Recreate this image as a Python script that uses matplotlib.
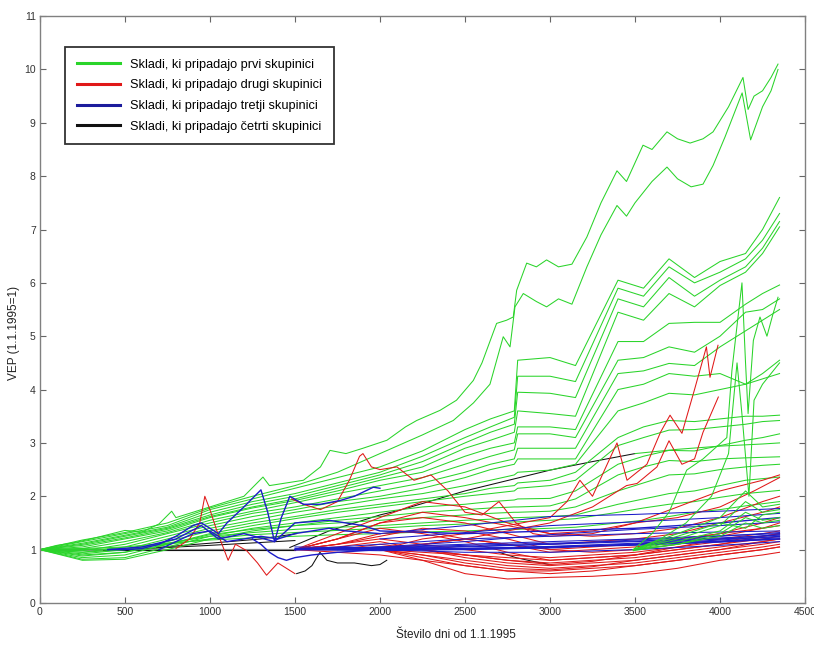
import numpy as np
import matplotlib
matplotlib.use("Agg")
import matplotlib.pyplot as plt

plt.rcParams['font.family'] = ['Liberation Sans', 'DejaVu Sans']

nan = np.nan

# ---------------- group 1 (green) ----------------
# two leading funds, read densely
g01_days = [0, 100, 200, 300, 400, 500, 600, 700, 775, 800, 900, 1000, 1100, 1200, 1312, 1350,
            1450, 1550, 1650, 1706, 1800, 1900, 2041, 2150, 2216, 2353, 2450, 2549, 2600, 2686,
            2745, 2784, 2804, 2863, 2920, 2980, 3050, 3129, 3217, 3300, 3394, 3450, 3547, 3600,
            3688, 3750, 3824, 3900, 3959, 4050, 4135, 4165, 4200, 4250, 4300, 4341]
g01_vals = [1.0, 1.08, 1.13, 1.2, 1.28, 1.36, 1.33, 1.48, 1.72, 1.6, 1.7, 1.8, 1.9, 2.0, 2.36, 2.2,
            2.25, 2.3, 2.55, 2.86, 2.8, 2.9, 3.05, 3.3, 3.42, 3.61, 3.8, 4.17, 4.5, 5.24,
            5.3, 5.36, 5.86, 6.37, 6.3, 6.43, 6.3, 6.35, 6.86, 7.5, 8.1, 7.9, 8.58, 8.5,
            8.83, 8.7, 8.62, 8.7, 8.83, 9.3, 9.85, 9.25, 9.5, 9.6, 9.85, 10.1]
g02_days = [0, 250, 500, 750, 1000, 1250, 1500, 1750, 2000, 2250, 2431, 2550, 2647, 2725, 2765,
            2794, 2843, 2920, 2980, 3050, 3129, 3217, 3300, 3394, 3450, 3500, 3600, 3688, 3750,
            3830, 3900, 3959, 4030, 4130, 4180, 4250, 4300, 4341]
g02_vals = [1.0, 1.18, 1.32, 1.5, 1.78, 2.0, 2.2, 2.45, 2.8, 3.15, 3.42, 3.75, 4.1, 4.99, 4.8,
            5.55, 5.8, 5.65, 5.55, 5.7, 5.6, 6.3, 6.9, 7.45, 7.25, 7.5, 7.9, 8.17, 7.95,
            7.8, 7.85, 8.2, 8.74, 9.56, 8.68, 9.3, 9.6, 10.0]

# remaining first-group funds on a common day grid
g_days = [0, 250, 500, 750, 1000, 1250, 1500, 1750, 2000, 2250, 2500, 2650,
          2790, 2810, 3000, 3150, 3400, 3550, 3700, 3850, 4000, 4150, 4250, 4350]
g03 = [1.0, 1.15, 1.3, 1.45, 1.75, 1.95, 2.15, 2.35, 2.55, 2.85, 3.25, 3.45, 3.6, 4.55, 4.6, 4.45, 6.05, 5.9, 6.45, 6.1, 6.4, 6.55, 7.0, 7.6]
g04 = [1.0, 1.12, 1.27, 1.42, 1.7, 1.9, 2.05, 2.25, 2.45, 2.75, 3.1, 3.3, 3.48, 4.25, 4.25, 4.15, 5.9, 5.75, 6.3, 6.0, 6.2, 6.45, 6.8, 7.3]
g05 = [1.0, 1.1, 1.25, 1.4, 1.65, 1.85, 2.0, 2.2, 2.4, 2.65, 3.0, 3.2, 3.35, 3.95, 3.93, 3.85, 5.7, 5.55, 6.1, 5.75, 6.05, 6.3, 6.65, 7.15]
g06 = [1.0, 1.08, 1.22, 1.38, 1.62, 1.8, 1.95, 2.15, 2.35, 2.55, 2.9, 3.05, 3.2, 3.6, 3.55, 3.5, 5.45, 5.3, 5.8, 5.55, 5.95, 6.2, 6.55, 7.05]
g07 = [1.0, 1.05, 1.2, 1.35, 1.6, 1.78, 1.92, 2.1, 2.3, 2.45, 2.75, 2.9, 3.0, 3.3, 3.3, 3.25, 4.9, 4.9, 5.24, 5.26, 5.26, 5.6, 5.8, 5.96]
g08 = [1.0, 1.02, 1.15, 1.32, 1.55, 1.72, 1.88, 2.05, 2.2, 2.35, 2.6, 2.75, 2.87, 3.17, 3.17, 3.1, 4.55, 4.6, 4.8, 4.7, 5.0, 5.45, 5.5, 5.7]
g09 = [1.0, 0.98, 1.1, 1.3, 1.5, 1.68, 1.8, 1.95, 2.1, 2.25, 2.45, 2.6, 2.7, 2.9, 2.9, 2.9, 4.3, 4.35, 4.49, 4.45, 4.8, 5.1, 5.3, 5.5]
g10 = [1.0, 0.95, 1.05, 1.25, 1.45, 1.62, 1.75, 1.9, 2.0, 2.15, 2.35, 2.5, 2.6, 2.7, 2.7, 2.7, 4.0, 4.1, 4.3, 4.25, 4.3, 4.1, 4.3, 4.55]
g11 = [1.0, 0.92, 1.0, 1.2, 1.4, 1.55, 1.7, 1.82, 1.95, 2.05, 2.2, 2.3, 2.4, 2.45, 2.49, 2.6, 3.6, 3.75, 3.93, 3.9, 4.0, 4.1, 4.2, 4.3]
g12 = [1.0, 0.88, 0.95, 1.15, 1.35, 1.5, 1.62, 1.75, 1.85, 1.95, 2.05, 2.15, 2.2, 2.25, 2.3, 2.45, 3.1, 3.3, 3.42, 3.4, 3.45, 3.5, 3.5, 3.52]
g13 = [1.0, 0.85, 0.9, 1.1, 1.3, 1.45, 1.58, 1.7, 1.8, 1.9, 2.0, 2.05, 2.1, 2.15, 2.2, 2.3, 2.95, 3.1, 3.24, 3.25, 3.3, 3.35, 3.4, 3.42]
g14 = [1.0, 0.82, 0.85, 1.05, 1.25, 1.4, 1.5, 1.6, 1.7, 1.8, 1.85, 1.9, 1.93, 1.95, 1.96, 2.1, 2.6, 2.75, 2.86, 2.85, 2.95, 3.05, 3.1, 3.17]
g15 = [1.0, 0.8, 0.82, 1.0, 1.2, 1.35, 1.45, 1.55, 1.62, 1.7, 1.75, 1.78, 1.8, 1.8, 1.82, 1.95, 2.4, 2.55, 2.67, 2.65, 2.7, 2.72, 2.73, 2.74]
g16 = [1.0, 0.9, 0.95, 1.1, 1.28, 1.38, 1.45, 1.5, 1.55, 1.6, 1.65, 1.68, 1.7, 1.7, 1.72, 1.8, 2.1, 2.25, 2.4, 2.42, 2.5, 2.55, 2.58, 2.6]
g17 = [1.0, 0.95, 1.0, 1.12, 1.25, 1.32, 1.38, 1.42, 1.45, 1.5, 1.55, 1.57, 1.6, 1.6, 1.62, 1.65, 1.85, 1.95, 2.05, 2.1, 2.2, 2.3, 2.33, 2.36]
g18 = [1.0, 1.0, 1.02, 1.1, 1.2, 1.28, 1.32, 1.36, 1.4, 1.45, 1.48, 1.5, 1.52, 1.52, 1.55, 1.58, 1.7, 1.78, 1.85, 1.9, 1.98, 2.05, 2.08, 2.11]
g19 = [1.0, 1.02, 1.05, 1.12, 1.18, 1.22, 1.25, 1.28, 1.3, 1.33, 1.35, 1.37, 1.38, 1.38, 1.4, 1.42, 1.5, 1.55, 1.62, 1.7, 1.75, 1.82, 1.86, 1.9]
green_grid = [g03, g04, g05, g06, g07, g08, g09, g10, g11, g12,
              g13, g14, g15, g16, g17, g18, g19]

# smooth green continuation and late-starting green funds
gs_days = [3500, 3750, 4000, 4250, 4350]
gs_vals = [2.8, 2.88, 2.94, 2.98, 3.0]
s1_days = [3490, 3600, 3700, 3804, 3900, 4040, 4070, 4100, 4129, 4150, 4165, 4196, 4235, 4276, 4310, 4341]
s1_vals = [1.0, 1.3, 1.7, 2.49, 2.7, 3.1, 4.36, 5.2, 6.0, 4.5, 3.55, 4.92, 5.36, 5.0, 5.4, 5.73]
s2_days = [3490, 3650, 3800, 3950, 4050, 4100, 4130, 4170, 4200, 4250, 4300, 4350]
s2_vals = [1.0, 1.2, 1.5, 2.0, 2.8, 4.5, 3.5, 2.0, 3.8, 4.1, 4.3, 4.5]
late_days = [3490, 3750, 4000, 4150, 4250, 4350]
l1 = [1.0, 1.15, 1.35, 1.7, 1.55, 1.6]
l2 = [1.0, 1.2, 1.45, 1.9, 1.7, 1.75]
l3 = [0.98, 1.1, 1.25, 1.5, 1.4, 1.45]
l4 = [1.0, 1.3, 1.6, 2.1, 1.8, 1.85]
l5 = [1.0, 1.1, 1.3, 1.6, 1.5, 1.55]
l6 = [1.0, 1.25, 1.5, 1.4, 1.65, 1.7]
late_green = [l1, l2, l3, l4, l5, l6]

# ---------------- group 2 (red) ----------------
r1_days = [800, 880, 940, 970, 1000, 1040, 1107, 1150, 1216, 1280, 1333, 1400, 1450, 1500]
r1_vals = [1.02, 1.2, 1.5, 2.0, 1.75, 1.36, 0.8, 1.1, 0.98, 0.75, 0.52, 0.75, 0.65, 0.55]
r2_days = [1480, 1550, 1650, 1750, 1820, 1880, 1900, 1950, 2000, 2100, 2200, 2300, 2400,
           2500, 2600, 2700, 2800, 2900, 3000, 3250, 3500, 3750, 4000, 4200, 4350]
r2_vals = [1.95, 1.85, 1.75, 1.9, 2.3, 2.75, 2.8, 2.55, 2.5, 2.55, 2.3, 2.4, 2.1,
           1.7, 1.65, 1.9, 1.5, 1.3, 1.25, 1.3, 1.5, 1.6, 1.8, 2.1, 2.35]
r3_days = [2000, 2250, 2500, 2750, 3000, 3100, 3176, 3250, 3394, 3453, 3570, 3650, 3706, 3776, 3850, 3920, 3941, 3988]
r3_vals = [1.0, 1.2, 1.3, 1.45, 1.6, 1.9, 2.3, 2.0, 3.0, 2.3, 2.6, 3.2, 3.52, 3.18, 4.0, 4.8, 4.23, 4.83]
r4_days = [2000, 2500, 3000, 3250, 3450, 3512, 3629, 3700, 3776, 3850, 3900, 3941, 3990]
r4_vals = [1.0, 1.2, 1.5, 1.8, 2.2, 2.24, 2.55, 3.04, 2.6, 2.7, 3.2, 3.5, 3.86]
r_days = [1500, 1750, 2000, 2250, 2500, 2750, 3000, 3250, 3500, 3750, 4000, 4250, 4350]
rb01 = [1.0, 1.1, 1.3, 1.35, 1.2, 1.1, 1.0, 1.05, 1.1, 1.2, 1.3, 1.4, 1.45]
rb02 = [1.0, 1.05, 1.15, 1.0, 0.9, 0.8, 0.75, 0.8, 0.85, 0.95, 1.05, 1.15, 1.2]
rb03 = [1.0, 0.95, 0.9, 0.8, 0.7, 0.6, 0.55, 0.6, 0.7, 0.8, 0.9, 1.0, 1.05]
rb04 = [1.0, 1.2, 1.5, 1.6, 1.5, 1.3, 1.1, 1.15, 1.2, 1.3, 1.5, 1.7, 1.8]
rb05 = [1.0, 1.1, 1.2, 1.1, 1.0, 0.9, 0.85, 0.9, 0.95, 1.05, 1.15, 1.25, 1.3]
rb06 = [nan, nan, 1.0, 0.9, 0.8, 0.7, 0.65, 0.7, 0.75, 0.85, 0.95, 1.05, 1.1]
rb07 = [nan, nan, 1.0, 0.85, 0.7, 0.6, 0.6, 0.65, 0.7, 0.8, 0.9, 1.0, 1.05]
rb08 = [nan, nan, 1.0, 0.8, 0.55, 0.45, 0.48, 0.5, 0.55, 0.65, 0.8, 0.9, 0.95]
rb09 = [nan, nan, 1.0, 1.1, 1.2, 1.1, 0.95, 1.0, 1.05, 1.15, 1.3, 1.5, 1.6]
rb10 = [1.0, 1.3, 1.6, 1.9, 1.8, 1.5, 1.3, 1.25, 1.3, 1.4, 1.6, 1.9, 2.0]
rb11 = [1.0, 1.2, 1.4, 1.3, 1.15, 0.95, 0.8, 0.85, 0.9, 1.0, 1.1, 1.2, 1.25]
rb12 = [1.0, 1.0, 1.05, 1.0, 0.85, 0.75, 0.7, 0.75, 0.8, 0.9, 1.0, 1.1, 1.15]
rb13 = [nan, nan, 1.0, 0.95, 0.9, 0.85, 0.8, 0.85, 0.9, 1.0, 1.1, 1.25, 1.3]
rb14 = [1.0, 1.1, 1.25, 1.4, 1.35, 1.2, 1.0, 0.95, 1.0, 1.1, 1.25, 1.4, 1.5]
rb15 = [1.0, 1.2, 1.5, 1.7, 1.6, 1.45, 1.3, 1.35, 1.5, 1.8, 2.1, 2.3, 2.4]
rb16 = [nan, nan, 1.0, 0.9, 0.75, 0.65, 0.62, 0.68, 0.8, 0.9, 1.0, 1.15, 1.2]
rb17 = [nan, 1.0, 1.1, 1.0, 0.9, 0.8, 0.72, 0.78, 0.9, 1.05, 1.2, 1.3, 1.35]
red_grid = [rb01, rb02, rb03, rb04, rb05, rb06, rb07, rb08, rb09, rb10, rb11,
            rb12, rb13, rb14, rb15, rb16, rb17]

# ---------------- group 3 (blue) ----------------
b1_days = [400, 500, 600, 700, 800, 900, 950, 1000, 1050, 1100, 1200, 1300, 1340, 1380,
           1420, 1470, 1550, 1650, 1765, 1850, 1961, 2000]
b1_vals = [1.0, 1.0, 1.02, 1.1, 1.25, 1.45, 1.5, 1.4, 1.3, 1.5, 1.8, 2.12, 1.7, 1.15,
           1.6, 2.0, 1.85, 1.85, 1.92, 2.0, 2.17, 2.15]
b2_days = [400, 600, 800, 950, 1050, 1200, 1380, 1500, 1700, 1900, 2000, 2500, 3000, 3500, 4000, 4350]
b2_vals = [1.0, 1.05, 1.2, 1.45, 1.2, 1.3, 1.15, 1.5, 1.55, 1.45, 1.35, 1.3, 1.35, 1.4, 1.5, 1.6]
b3_days = [1250, 1300, 1350, 1400, 1450, 1500, 1600, 1750, 2000, 2500, 3000, 3500, 4000, 4350]
b3_vals = [1.2, 1.1, 0.95, 0.85, 0.8, 0.85, 0.9, 0.95, 1.0, 1.02, 1.05, 1.1, 1.15, 1.2]
b4_days = [700, 900, 1000, 1100, 1200, 1300, 1400, 1500, 1700, 1800, 2000]
b4_vals = [1.0, 1.3, 1.35, 1.15, 1.2, 1.25, 1.2, 1.3, 1.4, 1.35, 1.3]
bl_days = [1500, 2000, 2500, 3000, 3500, 4000, 4350]
bl01 = [nan, 1.3, 1.45, 1.62, 1.66, 1.72, 1.77]
bl02 = [nan, 1.2, 1.32, 1.45, 1.52, 1.6, 1.68]
bl03 = [1.0, 1.05, 1.15, 1.28, 1.38, 1.45, 1.52]
bl04 = [1.0, 1.02, 1.05, 1.1, 1.18, 1.25, 1.32]
bl05 = [1.0, 1.0, 1.02, 1.06, 1.12, 1.2, 1.28]
bl06 = [1.0, 1.02, 1.0, 1.03, 1.1, 1.16, 1.22]
bl07 = [1.05, 1.03, 1.02, 1.05, 1.08, 1.14, 1.2]
bl08 = [1.0, 0.98, 1.0, 1.04, 1.1, 1.18, 1.25]
bl09 = [1.0, 1.05, 1.1, 1.15, 1.2, 1.26, 1.3]
bl10 = [1.0, 1.1, 1.2, 1.25, 1.3, 1.33, 1.35]
bl11 = [1.0, 1.0, 0.95, 0.95, 1.0, 1.08, 1.15]
bl12 = [1.02, 1.04, 1.08, 1.12, 1.16, 1.22, 1.27]
bl13 = [1.0, 1.03, 1.06, 1.1, 1.15, 1.2, 1.24]
blue_grid = [bl01, bl02, bl03, bl04, bl05, bl06, bl07, bl08, bl09, bl10, bl11, bl12, bl13]

# ---------------- group 4 (black) ----------------
k0_days = [0, 1500]
k0_vals = [1.0, 1.0]
k1_days = [370, 1000, 1500]
k1_vals = [1.0, 1.0, 1.0]
k2_days = [1510, 1560, 1600, 1647, 1688, 1750, 1850, 1950, 2000, 2040]
k2_vals = [0.55, 0.6, 0.7, 0.95, 0.8, 0.75, 0.75, 0.7, 0.72, 0.8]
k3_days = [1470, 1700, 2000, 2118, 2500, 3000, 3250, 3500]
k3_vals = [1.04, 1.35, 1.65, 1.74, 2.1, 2.49, 2.65, 2.8]
k4_days = [686, 1000, 1300, 1510]
k4_vals = [1.04, 1.12, 1.2, 1.3]
k5_days = [500, 1000, 1500]
k5_vals = [1.0, 1.08, 1.17]
k6_days = [2700, 2800, 2900, 3000]
k6_vals = [0.95, 0.85, 0.78, 0.72]

legend_labels = ["Skladi, ki pripadajo prvi skupinici",
                 "Skladi, ki pripadajo drugi skupinici",
                 "Skladi, ki pripadajo tretji skupinici",
                 "Skladi, ki pripadajo četrti skupinici"]

GREEN = '#2ad42a'
RED = '#e01818'
BLUE = '#1c1cc8'
BLACK = '#111111'
LW = 0.75

fig = plt.figure(figsize=(8.14, 6.46), dpi=100)
ax = fig.add_axes([0.049, 0.0666, 0.940, 0.9085])

# black group first (underneath)
ax.plot(k0_days, k0_vals, color='#8c8c8c', lw=1.6)
for d, v in [(k1_days, k1_vals), (k2_days, k2_vals), (k3_days, k3_vals),
             (k4_days, k4_vals), (k5_days, k5_vals), (k6_days, k6_vals)]:
    ax.plot(d, v, color=BLACK, lw=LW)

# green group
ax.plot(g01_days, g01_vals, color=GREEN, lw=LW)
ax.plot(g02_days, g02_vals, color=GREEN, lw=LW)
for v in green_grid:
    ax.plot(g_days, v, color=GREEN, lw=LW)
ax.plot(gs_days, gs_vals, color=GREEN, lw=LW)

# red group
for d, v in [(r1_days, r1_vals), (r2_days, r2_vals), (r3_days, r3_vals), (r4_days, r4_vals)]:
    ax.plot(d, v, color=RED, lw=LW)
for v in red_grid:
    ax.plot(r_days, v, color=RED, lw=LW)

# blue group
for d, v in [(b1_days, b1_vals), (b2_days, b2_vals), (b3_days, b3_vals), (b4_days, b4_vals)]:
    ax.plot(d, v, color=BLUE, lw=1.0)
for v in blue_grid:
    ax.plot(bl_days, v, color=BLUE, lw=LW)

# late green funds on top
ax.plot(s1_days, s1_vals, color=GREEN, lw=LW)
ax.plot(s2_days, s2_vals, color=GREEN, lw=LW)
for v in late_green:
    ax.plot(late_days, v, color=GREEN, lw=LW)

ax.set_xlim(0, 4500)
ax.set_ylim(0, 11)
ax.set_xticks(np.arange(0, 4501, 500))
ax.set_yticks(np.arange(0, 12, 1))
ax.tick_params(direction='in', length=4, width=0.8, labelcolor='#333333', color='#666666',
               labelsize=7.5, top=True, right=True, labeltop=False, labelright=False,
               pad=3)
for s in ax.spines.values():
    s.set_color('#808080')
    s.set_linewidth(1.0)

ax.set_xlabel("Število dni od 1.1.1995", fontsize=8.5, color='#222222')
ax.xaxis.set_label_coords(0.544, -0.045)
ax.set_ylabel("VEP (1.1.1995=1)", fontsize=8.5, color='#222222')
ax.yaxis.set_label_coords(-0.026, 0.46)

handles = [plt.Line2D([], [], color=c, lw=2.2) for c in (GREEN, RED, '#1c1c9c', BLACK)]
leg = ax.legend(handles, legend_labels, loc='upper left', bbox_to_anchor=(0.033, 0.947),
                fontsize=9.2, frameon=True, fancybox=False, edgecolor='black',
                handlelength=3.4, handletextpad=0.8, borderpad=0.9, labelspacing=0.68,
                borderaxespad=0)
leg.get_frame().set_linewidth(1.3)

fig.savefig("out.png", dpi=100)
